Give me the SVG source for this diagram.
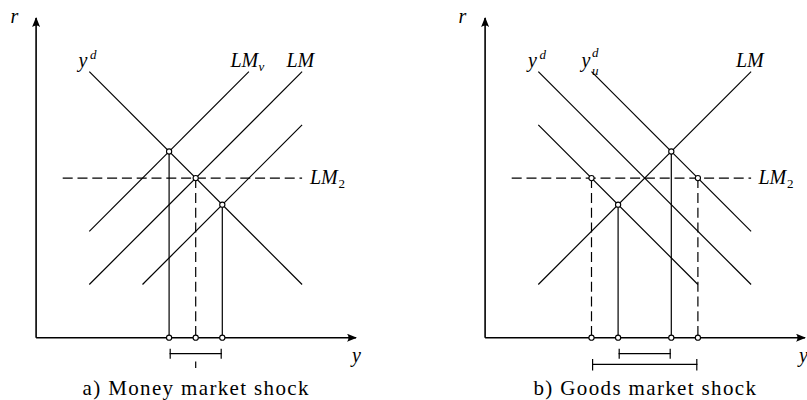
<svg xmlns="http://www.w3.org/2000/svg" width="807" height="400" viewBox="0 0 807 400">
<style>
.ax{stroke:#000;stroke-width:1.6;fill:none}
.ln{stroke:#000;stroke-width:1.2;fill:none}
.ds{stroke:#000;stroke-width:1.2;fill:none;stroke-dasharray:10 4.8}
.pt{fill:#fff;stroke:#000;stroke-width:1.1}
text{font-family:'Liberation Serif','Times New Roman',serif;fill:#000}
.m{font-style:italic;font-size:20px}
.s{font-style:italic;font-size:13px}
.n{font-size:13px}
.cap{font-size:21px}
</style>
<defs>
<marker id="arr" viewBox="0 0 10 8" refX="9" refY="4" markerWidth="10" markerHeight="8" markerUnits="userSpaceOnUse" orient="auto">
<path d="M0,0 Q3,4 0,8 L10,4 Z" fill="#000"/>
</marker>
</defs>

<g id="panel-a">
<g id="axes-a">
<line class="ax" x1="36.1" y1="337.7" x2="36.1" y2="18" marker-end="url(#arr)"/>
<line class="ax" x1="36.1" y1="337.7" x2="356" y2="337.7" marker-end="url(#arr)"/>
<text class="m" x="10.5" y="23">r</text>
<text class="m" x="352" y="362">y</text>
</g>
<g id="connectors-a">
<line class="ln" x1="89.3" y1="71.7" x2="302.1" y2="284.5"/>
<line class="ln" x1="248.9" y1="71.7" x2="89.3" y2="231.3"/>
<line class="ln" x1="302.1" y1="71.7" x2="89.3" y2="284.5"/>
<line class="ln" x1="302.1" y1="124.9" x2="142.5" y2="284.5"/>
<line class="ds" x1="62.7" y1="178.1" x2="302.1" y2="178.1"/>
<line class="ln" x1="169.1" y1="151.5" x2="169.1" y2="337.7"/>
<line class="ds" x1="195.7" y1="178.1" x2="195.7" y2="337.7"/>
<line class="ln" x1="222.3" y1="204.7" x2="222.3" y2="337.7"/>
<line class="ln" x1="169.6" y1="353.7" x2="221.8" y2="353.7"/>
<line class="ln" x1="170.2" y1="348.7" x2="170.2" y2="358.7"/>
<line class="ln" x1="221.2" y1="348.7" x2="221.2" y2="358.7"/>
<line class="ln" x1="195.7" y1="361.5" x2="195.7" y2="368"/>
</g>
<g id="labels-a">
<text class="m" x="78.5" y="67">y</text><text class="s" x="90" y="59">d</text>
<text class="m" x="230.5" y="67">LM</text><text class="s" x="258.5" y="71">v</text>
<text class="m" x="286.5" y="67">LM</text>
<text class="m" x="310" y="183.5">LM</text><text class="n" x="338.5" y="188">2</text>
</g>
<g id="points-a">
<circle class="pt" cx="169.1" cy="151.5" r="2.6"/>
<circle class="pt" cx="195.7" cy="178.1" r="2.6"/>
<circle class="pt" cx="222.3" cy="204.7" r="2.6"/>
<circle class="pt" cx="169.1" cy="337.7" r="2.6"/>
<circle class="pt" cx="195.7" cy="337.7" r="2.6"/>
<circle class="pt" cx="222.3" cy="337.7" r="2.6"/>
</g>
<text class="cap" x="82.5" y="395" textLength="226" lengthAdjust="spacing">a) Money market shock</text>
</g>

<g id="panel-b">
<g id="axes-b">
<line class="ax" x1="485.1" y1="337.7" x2="485.1" y2="18" marker-end="url(#arr)"/>
<line class="ax" x1="485.1" y1="337.7" x2="805" y2="337.7" marker-end="url(#arr)"/>
<text class="m" x="458.5" y="23">r</text>
<text class="m" x="799" y="362">y</text>
</g>
<g id="connectors-b">
<line class="ln" x1="538.3" y1="71.7" x2="751.1" y2="284.5"/>
<line class="ln" x1="591.5" y1="71.7" x2="751.1" y2="231.3"/>
<line class="ln" x1="751.1" y1="71.7" x2="538.3" y2="284.5"/>
<line class="ln" x1="538.3" y1="124.9" x2="697.9" y2="284.5"/>
<line class="ds" x1="511.7" y1="178.1" x2="751.1" y2="178.1"/>
<line class="ds" x1="591.5" y1="178.1" x2="591.5" y2="337.7"/>
<line class="ln" x1="618.1" y1="204.7" x2="618.1" y2="337.7"/>
<line class="ln" x1="671.3" y1="151.5" x2="671.3" y2="337.7"/>
<line class="ds" x1="697.9" y1="178.1" x2="697.9" y2="337.7"/>
<line class="ln" x1="618.6" y1="353.7" x2="670.8" y2="353.7"/>
<line class="ln" x1="619.2" y1="348.7" x2="619.2" y2="358.7"/>
<line class="ln" x1="670.2" y1="348.7" x2="670.2" y2="358.7"/>
<line class="ln" x1="592" y1="364.3" x2="697.4" y2="364.3"/>
<line class="ln" x1="592.6" y1="359" x2="592.6" y2="370.5"/>
<line class="ln" x1="696.8" y1="359" x2="696.8" y2="370.5"/>
</g>
<g id="labels-b">
<text class="m" x="528" y="67">y</text><text class="s" x="539.5" y="59">d</text>
<text class="m" x="581.5" y="67">y</text><text class="s" x="592" y="57">d</text><text class="s" x="592" y="75">u</text>
<text class="m" x="736" y="67">LM</text>
<text class="m" x="758.5" y="183.5">LM</text><text class="n" x="787" y="188">2</text>
</g>
<g id="points-b">
<circle class="pt" cx="671.3" cy="151.5" r="2.6"/>
<circle class="pt" cx="591.5" cy="178.1" r="2.6"/>
<circle class="pt" cx="697.9" cy="178.1" r="2.6"/>
<circle class="pt" cx="618.1" cy="204.7" r="2.6"/>
<circle class="pt" cx="591.5" cy="337.7" r="2.6"/>
<circle class="pt" cx="618.1" cy="337.7" r="2.6"/>
<circle class="pt" cx="671.3" cy="337.7" r="2.6"/>
<circle class="pt" cx="697.9" cy="337.7" r="2.6"/>
</g>
<text class="cap" x="533.5" y="395" textLength="222.5" lengthAdjust="spacing">b) Goods market shock</text>
</g>
</svg>
